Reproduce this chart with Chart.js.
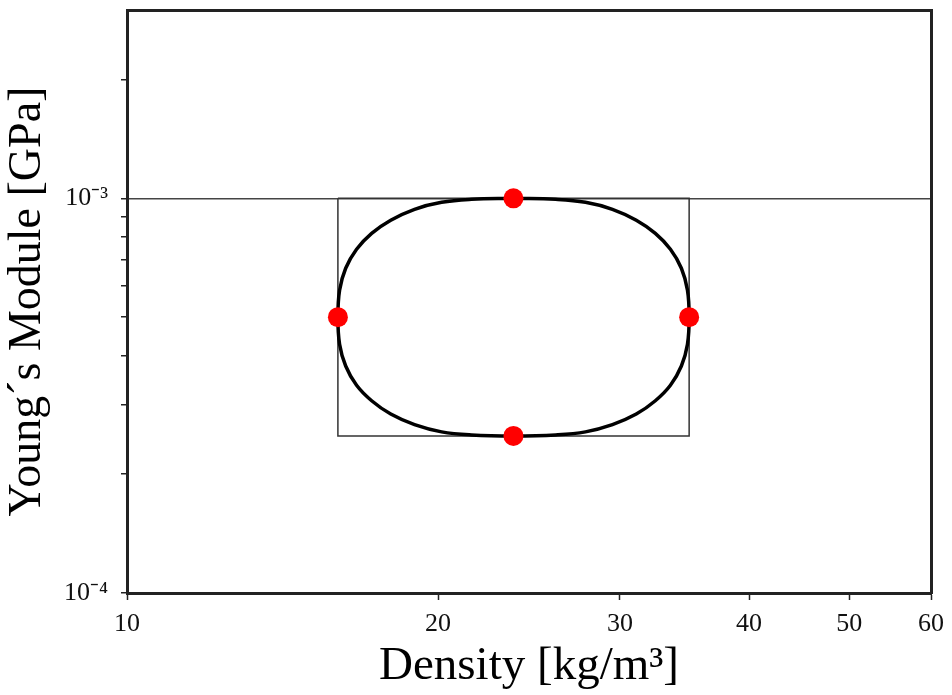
<!DOCTYPE html>
<html>
<head>
<meta charset="utf-8">
<script src="https://cdn.jsdelivr.net/npm/chart.js@4/dist/chart.umd.min.js"></script>
<style>
  body { margin: 0; background: #fff; }
  #wrap { width: 952px; height: 695px; }
</style>
</head>
<body>
<div id="wrap"><canvas id="ashby-chart" width="952" height="695"></canvas></div>
<script>
// tick values and labels
const xTickValues = [10, 20, 30, 40, 50, 60];
const xTickLabels = ['10', '20', '30', '40', '50', '60'];
const yTickValues = [1e-4, 2e-4, 3e-4, 4e-4, 5e-4, 6e-4, 7e-4, 8e-4, 9e-4, 1e-3, 2e-3];
const yTickLabels = ['10⁻⁴', '', '', '', '', '', '', '', '', '10⁻³', ''];

// red points (extremes of the envelope)
const pointDensity = [23.66, 35.0, 23.66, 16.0];
const pointModulus = [1e-3, 5e-4, 2.5e-4, 5e-4];

// bounding box
const boxDensity = [16.0, 35.0, 35.0, 16.0, 16.0];
const boxModulus = [1e-3, 1e-3, 2.5e-4, 2.5e-4, 1e-3];

// envelope curve (clockwise from the top)
const curveDensity = [
    23.66, 25.99, 27.78, 29.50, 31.11, 32.46, 33.57, 34.40, 34.87, 35.0,
    34.87, 34.40, 33.57, 32.46, 31.11, 29.50, 27.78, 25.99, 23.66,
    21.55, 20.16, 18.98, 18.00, 17.25, 16.68, 16.28, 16.06, 16.0,
    16.06, 16.28, 16.68, 17.25, 18.00, 18.98, 20.16, 21.55, 23.66
];
const curveModulus = [
    1e-3, 9.94e-4, 9.77e-4, 9.38e-4, 8.80e-4, 8.15e-4, 7.43e-4, 6.65e-4, 5.85e-4, 5.0e-4,
    4.27e-4, 3.76e-4, 3.36e-4, 3.07e-4, 2.84e-4, 2.67e-4, 2.56e-4, 2.515e-4, 2.5e-4,
    2.515e-4, 2.56e-4, 2.67e-4, 2.84e-4, 3.07e-4, 3.36e-4, 3.76e-4, 4.27e-4, 5.0e-4,
    5.85e-4, 6.65e-4, 7.43e-4, 8.15e-4, 8.80e-4, 9.38e-4, 9.77e-4, 9.94e-4, 1e-3
];

const serif = "'Liberation Serif', 'Times New Roman', serif";

function toXY(xs, ys) {
    return xs.map((x, i) => ({x: x, y: ys[i]}));
}

window.addEventListener("DOMContentLoaded", () => {
    const ctx = document.getElementById('ashby-chart');

    const config = {
        type: 'scatter',
        data: {
            datasets: [{
                data: toXY(pointDensity, pointModulus),
                backgroundColor: '#ff0000',
                borderWidth: 0,
                pointRadius: 10,
                showLine: false
            }, {
                data: toXY(curveDensity, curveModulus),
                borderColor: '#000',
                borderWidth: 3.5,
                pointRadius: 0,
                showLine: true,
                tension: 0.4
            }, {
                data: toXY(boxDensity, boxModulus),
                borderColor: '#333',
                borderWidth: 1.5,
                pointRadius: 0,
                showLine: true,
                tension: 0
            }]
        },
        options: {
            responsive: false,
            animation: false,
            layout: {
                padding: {top: 9, right: 21, left: 0, bottom: 0}
            },
            plugins: {
                legend: {display: false},
                tooltip: {enabled: false}
            },
            scales: {
                x: {
                    type: 'logarithmic',
                    min: 10,
                    max: 60,
                    afterBuildTicks: (scale) => {
                        scale.ticks = xTickValues.map(v => ({value: v}));
                    },
                    afterFit: (scale) => {
                        scale.height = 102;
                        scale.paddingLeft = 0;
                        scale.paddingRight = 0;
                    },
                    ticks: {
                        autoSkip: false,
                        maxRotation: 0,
                        padding: 9,
                        color: '#111',
                        font: {family: serif, size: 26},
                        callback: (value) => xTickLabels[xTickValues.indexOf(value)]
                    },
                    grid: {
                        color: 'rgba(0,0,0,0)',
                        tickColor: '#222',
                        tickLength: 7,
                        tickWidth: 1.5
                    },
                    border: {color: '#222', width: 3},
                    title: {
                        display: true,
                        text: 'Density [kg/m³]',
                        color: '#000',
                        padding: 0,
                        font: {family: serif, size: 47}
                    }
                },
                y: {
                    type: 'logarithmic',
                    min: 1e-4,
                    max: 3e-3,
                    afterBuildTicks: (scale) => {
                        scale.ticks = yTickValues.map(v => ({value: v}));
                    },
                    afterFit: (scale) => {
                        scale.width = 127;
                        scale.paddingTop = 0;
                        scale.paddingBottom = 0;
                    },
                    ticks: {
                        autoSkip: false,
                        padding: 13,
                        color: '#111',
                        font: {family: serif, size: 26},
                        callback: (value) => yTickLabels[yTickValues.indexOf(value)]
                    },
                    grid: {
                        color: (c) => (c.tick && c.tick.value === 1e-3) ? '#444' : 'rgba(0,0,0,0)',
                        lineWidth: 1.5,
                        tickColor: '#222',
                        tickLength: 6,
                        tickWidth: 1.5
                    },
                    border: {color: '#222', width: 3},
                    title: {
                        display: true,
                        text: 'Young´s Module [GPa]',
                        color: '#000',
                        padding: 0,
                        font: {family: serif, size: 46}
                    }
                },
                xTop: {
                    type: 'linear',
                    position: 'top',
                    display: true,
                    ticks: {display: false},
                    grid: {drawOnChartArea: false, drawTicks: false},
                    border: {color: '#222', width: 3},
                    afterFit: (scale) => { scale.height = 0; }
                },
                yRight: {
                    type: 'linear',
                    position: 'right',
                    display: true,
                    ticks: {display: false},
                    grid: {drawOnChartArea: false, drawTicks: false},
                    border: {color: '#222', width: 3},
                    afterFit: (scale) => { scale.width = 0; }
                }
            }
        }
    };

    const chart = new Chart(ctx, config);
});
</script>
</body>
</html>
